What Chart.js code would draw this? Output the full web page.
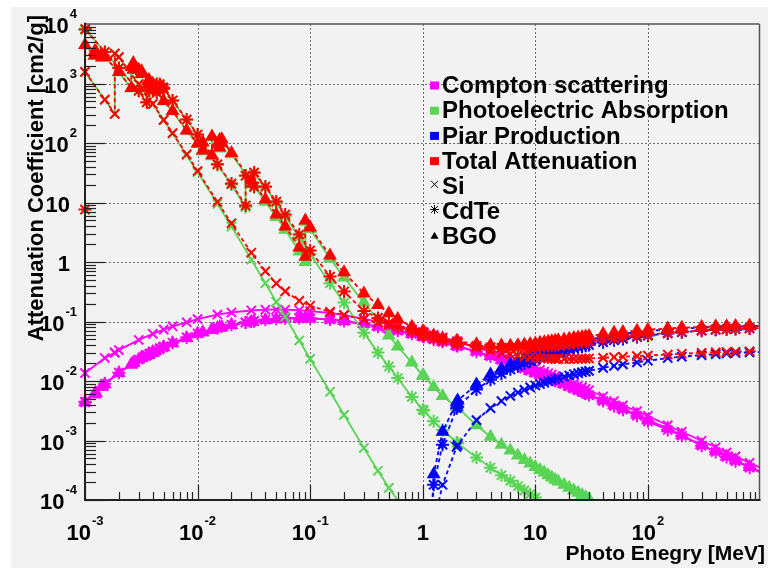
<!DOCTYPE html>
<html>
<head>
<meta charset="utf-8">
<script src="https://cdn.jsdelivr.net/npm/chart.js@4.4.1/dist/chart.umd.min.js"></script>
<style>
  html, body { margin: 0; padding: 0; background: #fff; }
  #wrap { width: 768px; height: 568px; }
</style>
</head>
<body>
<div id="wrap"><canvas id="myChart" width="768" height="568"></canvas></div>
<script>
// energies shared by all materials above 100 keV [MeV]
const eTail = [0.1, 0.15, 0.2, 0.3, 0.4, 0.5, 0.6, 0.8, 1, 1.022, 1.25, 1.5, 2, 2.044, 3, 4, 5, 6, 7, 8, 9, 10,
  11, 12, 13, 14, 15, 16, 18, 20, 22, 24, 26, 28, 30, 40, 50, 60, 80, 100, 150, 200, 300, 400, 500, 600, 800, 1000];
const pairEnergy = eTail.slice(9);

// ---- Si ----
const siEnergy = [1e-3, 1.5e-3, 1.839e-3, 1.839e-3, 2e-3, 3e-3, 4e-3, 5e-3, 6e-3, 8e-3, 1e-2, 1.5e-2, 2e-2, 3e-2,
  4e-2, 5e-2, 6e-2, 8e-2].concat(eTail);
const siCompton = [0.0136, 0.0244, 0.030, 0.030, 0.033, 0.049, 0.062, 0.073, 0.083, 0.097, 0.110, 0.131, 0.142, 0.153,
  0.158, 0.159, 0.158, 0.1545,
  0.150, 0.139, 0.128, 0.111, 0.0998, 0.0911, 0.0843, 0.0741, 0.0666, 0.0659, 0.0596, 0.0542, 0.0464, 0.0459, 0.0368,
  0.0308, 0.0267, 0.0236, 0.0212, 0.0193, 0.0177, 0.0164, 0.0153, 0.0143, 0.0135, 0.0128, 0.0121, 0.0116, 0.0106,
  0.0097, 0.0090, 0.0084, 0.0079, 0.0074, 0.0070, 0.0055, 0.0046, 0.0039, 0.0031, 0.0026, 0.0018, 0.0014, 0.00099,
  0.00077, 0.00063, 0.00054, 0.00042, 0.00035];
const siPhoto = [1567, 533, 307, 3190, 2770, 972, 448, 241, 144, 62.2, 32.2, 9.5, 3.93, 1.10, 0.44, 0.214, 0.120, 0.048,
  0.0235, 6.6e-3, 2.7e-3, 7.5e-4, 3.1e-4, 1.6e-4, 9.8e-5, 4.8e-5, 2.9e-5];
const siPair = [1e-6, 4e-5, 1.8e-4, 7.8e-4, 8.4e-4, 2.2e-3, 3.5e-3, 4.6e-3, 5.6e-3, 6.4e-3, 7.1e-3, 7.8e-3, 8.4e-3,
  8.9e-3, 9.4e-3, 9.9e-3, 1.03e-2, 1.07e-2, 1.11e-2, 1.18e-2, 1.24e-2, 1.30e-2, 1.35e-2, 1.40e-2, 1.44e-2, 1.48e-2,
  1.66e-2, 1.79e-2, 1.90e-2, 2.06e-2, 2.19e-2, 2.43e-2, 2.56e-2, 2.72e-2, 2.83e-2, 2.90e-2, 2.95e-2, 3.02e-2, 3.06e-2];
const siTotal = [1570, 535, 309, 3190, 2780, 978, 453, 245, 147, 64.7, 33.9, 10.3, 4.46, 1.43, 0.701, 0.438, 0.321, 0.223,
  0.184, 0.145, 0.128, 0.108, 0.0961, 0.0875, 0.0808, 0.0708, 0.0636, 0.0629, 0.0569, 0.0518, 0.0448, 0.0444, 0.0368,
  0.0324, 0.0297, 0.0279, 0.0267, 0.0257, 0.0251, 0.0246, 0.0243, 0.0240, 0.0238, 0.0237, 0.0235, 0.0235, 0.0234,
  0.0234, 0.0235, 0.0236, 0.0237, 0.0238, 0.0239, 0.0245, 0.0251, 0.0255, 0.0262, 0.0268, 0.0279, 0.0287, 0.0297,
  0.0304, 0.0308, 0.0311, 0.0316, 0.0319];

// ---- CdTe ----
const cdteEnergy = [1e-3, 1.006e-3, 1.5e-3, 2e-3, 3e-3, 3.538e-3, 3.538e-3, 3.727e-3, 3.727e-3, 4e-3, 4.018e-3, 4.018e-3,
  4.341e-3, 4.341e-3, 4.612e-3, 4.612e-3, 4.939e-3, 4.939e-3, 5e-3, 6e-3, 8e-3, 1e-2, 1.5e-2, 2e-2, 2.671e-2, 2.671e-2,
  3e-2, 3.181e-2, 3.181e-2, 4e-2, 5e-2, 6e-2, 8e-2].concat(eTail);
const cdteCompton = [0.0044, 0.0045, 0.0090, 0.0138, 0.023, 0.027, 0.027, 0.0285, 0.0285, 0.031, 0.031, 0.031, 0.033,
  0.033, 0.035, 0.035, 0.037, 0.037, 0.038, 0.044, 0.054, 0.063, 0.078, 0.088, 0.096, 0.096, 0.100, 0.102, 0.102, 0.107,
  0.111, 0.113, 0.114,
  0.113, 0.108, 0.102, 0.090, 0.082, 0.075, 0.070, 0.062, 0.056, 0.0553, 0.050, 0.0455, 0.039, 0.0386, 0.031, 0.026,
  0.0225, 0.0198, 0.0178, 0.0162, 0.0149, 0.0138, 0.0129, 0.0121, 0.0114, 0.0108, 0.0101, 0.0097, 0.0089, 0.0081,
  0.0075, 0.0070, 0.0066, 0.0062, 0.0058, 0.0046, 0.0038, 0.0033, 0.0026, 0.0021, 0.0015, 0.0012, 0.00082, 0.00064,
  0.00053, 0.00045, 0.00035, 0.00029];
const cdtePhoto = [8000, 8200, 3380, 1810, 750, 480, 870, 755, 965, 798, 787, 860, 697, 972, 825, 969, 806, 856, 828, 515,
  246, 137, 43, 20.1, 8.4, 27.8, 21.1, 17.9, 31.2, 18.0, 9.9, 5.9, 2.6,
  1.35, 0.44, 0.208, 0.065, 0.030, 0.0175, 0.0112, 0.0054, 0.0033, 0.0032, 0.0021, 0.0015, 9.3e-4, 9.0e-4, 5.2e-4,
  3.5e-4, 2.6e-4, 2.1e-4, 1.7e-4, 1.45e-4, 1.25e-4, 1.1e-4, 9.8e-5, 8.9e-5];
const cdtePair = [1e-7, 1.8e-4, 8.5e-4, 3.5e-3, 3.7e-3, 7.2e-3, 1.05e-2, 1.33e-2, 1.57e-2, 1.79e-2, 1.98e-2, 2.15e-2,
  2.31e-2, 2.46e-2, 2.6e-2, 2.72e-2, 2.84e-2, 2.95e-2, 3.05e-2, 3.24e-2, 3.4e-2, 3.55e-2, 3.69e-2, 3.81e-2, 3.93e-2,
  4.04e-2, 4.5e-2, 4.83e-2, 5.1e-2, 5.5e-2, 5.8e-2, 6.3e-2, 6.6e-2, 7.0e-2, 7.25e-2, 7.4e-2, 7.5e-2, 7.65e-2, 7.75e-2];
const cdteTotal = [7.6, 8200, 3390, 1817, 754, 483, 874, 759, 970, 802, 791, 864, 701, 977, 829, 974, 810, 860, 832, 518,
  248, 139, 44, 20.8, 8.9, 28.4, 21.7, 18.5, 32, 18.6, 10.4, 6.3, 2.9,
  1.56, 0.57, 0.32, 0.15, 0.115, 0.094, 0.082, 0.068, 0.0595, 0.0588, 0.0523, 0.048, 0.0434, 0.0432, 0.0388, 0.0369,
  0.0361, 0.0357, 0.0359, 0.0362, 0.0365, 0.0370, 0.0376, 0.0382, 0.0387, 0.0393, 0.0397, 0.0402, 0.0413, 0.0421,
  0.0430, 0.0439, 0.0447, 0.0455, 0.0462, 0.0496, 0.0521, 0.0543, 0.0576, 0.0601, 0.0645, 0.0672, 0.0708, 0.0731,
  0.0745, 0.0755, 0.0769, 0.0778];

// ---- BGO ----
const bgoEnergy = [1e-3, 1.217e-3, 1.217e-3, 1.248e-3, 1.248e-3, 1.414e-3, 1.414e-3, 1.5e-3, 2e-3, 2.58e-3, 2.58e-3,
  2.688e-3, 2.688e-3, 3e-3, 3.177e-3, 3.177e-3, 3.696e-3, 3.696e-3, 3.999e-3, 3.999e-3, 4e-3, 5e-3, 6e-3, 8e-3, 1e-2,
  1.11e-2, 1.11e-2, 1.342e-2, 1.342e-2, 1.5e-2, 1.571e-2, 1.571e-2, 1.639e-2, 1.639e-2, 2e-2, 3e-2, 4e-2, 5e-2, 6e-2,
  8e-2, 9.053e-2, 9.053e-2].concat(eTail);
const bgoCompton = [0.0044, 0.0060, 0.0060, 0.0063, 0.0063, 0.0080, 0.0080, 0.0088, 0.0136, 0.019, 0.019, 0.020, 0.020,
  0.023, 0.0245, 0.0245, 0.028, 0.028, 0.030, 0.030, 0.030, 0.037, 0.043, 0.053, 0.062, 0.066, 0.066, 0.073, 0.073,
  0.077, 0.079, 0.079, 0.080, 0.080, 0.087, 0.099, 0.106, 0.110, 0.112, 0.113, 0.113, 0.113,
  0.113, 0.108, 0.102, 0.0905, 0.0825, 0.0755, 0.0705, 0.0622, 0.0562, 0.0555, 0.0502, 0.0457, 0.0392, 0.0387, 0.0312,
  0.0262, 0.0227, 0.0200, 0.0180, 0.0164, 0.0150, 0.0139, 0.0130, 0.0122, 0.0115, 0.0109, 0.0102, 0.0098, 0.0090,
  0.0082, 0.0076, 0.0071, 0.0067, 0.0063, 0.0059, 0.0047, 0.0039, 0.0034, 0.0027, 0.0022, 0.0016, 0.00122, 0.00084,
  0.00066, 0.00054, 0.00046, 0.00036, 0.00030];
const bgoPhoto = [4400, 2920, 3420, 3320, 3420, 2720, 2970, 2770, 1545, 830, 1880, 1700, 2180, 1680, 1435, 1585, 1070,
  1140, 930, 975, 974, 505, 341, 160, 96, 73, 101, 60, 125, 92, 81, 109, 97, 113, 65, 22, 10.3, 5.7, 3.5, 1.5, 1.0, 4.75,
  3.6, 1.15, 0.55, 0.208, 0.108, 0.058, 0.038, 0.0204, 0.0124, 0.0121, 0.0079, 0.0056, 0.0037, 0.0036, 0.0018, 0.00116,
  0.00085, 0.00068, 0.00056, 0.00047, 0.00041, 0.00036, 0.00032, 0.00029, 0.00026, 0.00024, 0.00022, 0.000205, 0.00018,
  0.00016, 0.000145, 0.000132, 0.000121, 0.000112, 0.000104, 0.000077];
const bgoPair = [1e-7, 2.7e-4, 1.4e-3, 4.4e-3, 4.7e-3, 8.7e-3, 1.28e-2, 1.6e-2, 1.9e-2, 2.15e-2, 2.4e-2, 2.6e-2, 2.8e-2,
  3.0e-2, 3.15e-2, 3.3e-2, 3.45e-2, 3.6e-2, 3.7e-2, 3.95e-2, 4.15e-2, 4.35e-2, 4.5e-2, 4.65e-2, 4.8e-2, 4.95e-2, 5.5e-2,
  5.9e-2, 6.2e-2, 6.6e-2, 6.9e-2, 7.35e-2, 7.6e-2, 7.9e-2, 8.05e-2, 8.15e-2, 8.2e-2, 8.3e-2, 8.35e-2];
const bgoTotal = [4440, 2950, 3450, 3350, 3450, 2750, 3000, 2800, 1560, 840, 1900, 1720, 2200, 1700, 1450, 1600, 1080,
  1150, 940, 985, 984, 510, 345, 162, 98, 75, 103, 62, 128, 95, 84, 112, 100, 116, 68, 23.5, 11.2, 6.3, 3.95, 1.75, 1.22,
  5.0,
  3.8, 1.29, 0.67, 0.296, 0.19, 0.138, 0.110, 0.082, 0.068, 0.067, 0.058, 0.0525, 0.047, 0.0467, 0.0415, 0.040, 0.0394,
  0.0393, 0.040, 0.0409, 0.0418, 0.0428, 0.044, 0.0448, 0.0457, 0.0467, 0.0477, 0.0483, 0.0500, 0.0514, 0.0528, 0.0538,
  0.0549, 0.0559, 0.0571, 0.0614, 0.0645, 0.0669, 0.0702, 0.0727, 0.0765, 0.0786, 0.0812, 0.0825, 0.0833, 0.0837,
  0.0845, 0.0849];

// axes and legend texts
const xTickValues = [1e-3, 1e-2, 1e-1, 1, 10, 100];
const xTickLabels = ['10^-3', '10^-2', '10^-1', '1', '10', '10^2'];
const yTickValues = [1e-4, 1e-3, 1e-2, 1e-1, 1, 10, 100, 1e3, 1e4];
const yTickLabels = ['10^-4', '10^-3', '10^-2', '10^-1', '1', '10', '10^2', '10^3', '10^4'];
const processNames = ['Compton scattering', 'Photoelectric Absorption', 'Piar Production', 'Total Attenuation'];
const materialNames = ['Si', 'CdTe', 'BGO'];
const xTitle = 'Photo Enegry [MeV]';
const yTitle = 'Attenuation Coefficient [cm2/g]';

const xMin = 1e-3, xMax = 980, yMin = 1e-4, yMax = 1e4;
const processColors = ['#ff00ff', '#59d454', '#0000ff', '#ff0000'];
const materialStyles = ['crossRot', 'star', 'triangle'];
const FONT = '"Liberation Sans", Arial, sans-serif';

function toPoints(energy, values) {
  let pts = [];
  for (let i = 0; i < values.length; i++) {
    if (values[i] != null) pts.push({ x: energy[i], y: values[i] });
  }
  return pts;
}

function makeSet(label, energy, values, proc, mat) {
  const color = processColors[proc];
  const style = materialStyles[mat];
  const r = style === 'triangle' ? 6 : 6.5;
  return {
    label: label,
    data: toPoints(energy, values),
    borderColor: color,
    backgroundColor: color,
    borderWidth: 1.8,
    borderDash: proc >= 2 ? [4, 3] : [],
    pointStyle: style,
    pointBorderColor: color,
    pointBackgroundColor: color,
    pointBorderWidth: 2,
    pointRadius: (c) => {
      const p = c.raw;
      if (!p || p.x > xMax || p.y < yMin || p.y > yMax) return 0;
      return r;
    },
    fill: false,
    tension: 0,
    clip: { left: 10, top: 10, right: 0, bottom: 0 },
    order: 3 - proc,
  };
}

const datasets = [
  makeSet('Si total', siEnergy, siTotal, 3, 0),
  makeSet('CdTe total', cdteEnergy, cdteTotal, 3, 1),
  makeSet('BGO total', bgoEnergy, bgoTotal, 3, 2),
  makeSet('Si pair', pairEnergy, siPair, 2, 0),
  makeSet('CdTe pair', pairEnergy, cdtePair, 2, 1),
  makeSet('BGO pair', pairEnergy, bgoPair, 2, 2),
  makeSet('Si photo', siEnergy, siPhoto, 1, 0),
  makeSet('CdTe photo', cdteEnergy, cdtePhoto, 1, 1),
  makeSet('BGO photo', bgoEnergy, bgoPhoto, 1, 2),
  makeSet('Si compton', siEnergy, siCompton, 0, 0),
  makeSet('CdTe compton', cdteEnergy, cdteCompton, 0, 1),
  makeSet('BGO compton', bgoEnergy, bgoCompton, 0, 2),
];

function drawPow(ctx, label, x, y, align) {
  const parts = label.split('^');
  ctx.font = 'bold 22px ' + FONT;
  const bw = ctx.measureText(parts[0]).width;
  let ew = 0;
  if (parts[1]) {
    ctx.font = 'bold 13px ' + FONT;
    ew = ctx.measureText(parts[1]).width + 1;
  }
  const left = align === 'right' ? x - bw - ew : x - (bw + ew) / 2;
  ctx.textAlign = 'left';
  ctx.textBaseline = 'alphabetic';
  ctx.font = 'bold 22px ' + FONT;
  ctx.fillText(parts[0], left, y);
  if (parts[1]) {
    ctx.font = 'bold 13px ' + FONT;
    ctx.fillText(parts[1], left + bw + 1, y - 15);
  }
}

function seg(ctx, x1, y1, x2, y2) {
  ctx.beginPath();
  ctx.moveTo(x1, y1);
  ctx.lineTo(x2, y2);
  ctx.stroke();
}

const rootFrame = {
  id: 'rootFrame',
  beforeDraw(chart) {
    const ctx = chart.ctx;
    ctx.save();
    ctx.fillStyle = '#ffffff';
    ctx.fillRect(0, 0, chart.width, chart.height);
    ctx.fillStyle = '#f2f2f2';
    ctx.fillRect(11, 7, chart.width - 11, chart.height - 7);
    ctx.restore();
  },
  beforeDatasetsDraw(chart) {
    const { ctx, chartArea: a, scales: { x, y } } = chart;
    ctx.save();
    ctx.strokeStyle = '#6e6e6e';
    ctx.lineWidth = 1;
    ctx.setLineDash([2, 2]);
    xTickValues.slice(1).forEach(v => {
      const px = Math.round(x.getPixelForValue(v)) + 0.5;
      seg(ctx, px, a.top, px, a.bottom);
    });
    yTickValues.slice(1, -1).forEach(v => {
      const py = Math.round(y.getPixelForValue(v)) + 0.5;
      seg(ctx, a.left, py, a.right, py);
    });
    ctx.restore();
  },
  afterDatasetsDraw(chart) {
    const { ctx, chartArea: a, scales: { x, y } } = chart;
    ctx.save();
    ctx.setLineDash([]);
    // frame
    ctx.strokeStyle = '#555';
    ctx.lineWidth = 1.5;
    seg(ctx, a.left, a.top, a.right, a.top);
    seg(ctx, a.right, a.top, a.right, a.bottom);
    ctx.strokeStyle = '#222';
    ctx.lineWidth = 2;
    seg(ctx, a.left, a.top - 1, a.left, a.bottom + 1);
    seg(ctx, a.left - 1, a.bottom, a.right + 1, a.bottom);

    // ticks
    ctx.lineWidth = 1.2;
    for (let d = -4; d < 4; d++) {
      for (let k = 1; k <= 9; k++) {
        const v = k * Math.pow(10, d);
        if (v < yMin || v > yMax) continue;
        const py = Math.round(y.getPixelForValue(v)) + 0.5;
        seg(ctx, a.left, py, a.left + (k === 1 ? 20 : 11), py);
      }
    }
    for (let d = -3; d < 3; d++) {
      for (let k = 1; k <= 9; k++) {
        const v = k * Math.pow(10, d);
        if (v < xMin || v > xMax) continue;
        const px = Math.round(x.getPixelForValue(v)) + 0.5;
        seg(ctx, px, a.bottom, px, a.bottom - (k === 1 ? 15 : 8));
      }
    }

    // tick labels
    ctx.fillStyle = '#000';
    yTickValues.forEach((v, i) => {
      const py = y.getPixelForValue(v);
      const lab = yTickLabels[i];
      drawPow(ctx, lab, lab.indexOf('^') >= 0 ? 77 : 70, py + 9, 'right');
    });
    xTickValues.forEach((v, i) => {
      const px = x.getPixelForValue(v);
      drawPow(ctx, xTickLabels[i], px, 540, 'center');
    });

    // axis titles
    ctx.font = 'bold 21px ' + FONT;
    ctx.textAlign = 'right';
    ctx.textBaseline = 'alphabetic';
    ctx.fillText(xTitle, 765, 560);
    ctx.save();
    ctx.translate(43, 15);
    ctx.rotate(-Math.PI / 2);
    ctx.font = 'bold 22px ' + FONT;
    ctx.textAlign = 'right';
    ctx.fillText(yTitle, 0, 0);
    ctx.restore();

    // legend
    const lx = 430, ly = 85.5, step = 25.2;
    ctx.font = 'bold 24px ' + FONT;
    ctx.textAlign = 'left';
    ctx.textBaseline = 'middle';
    processNames.forEach((name, i) => {
      const cy = ly + i * step;
      ctx.fillStyle = processColors[i];
      ctx.fillRect(lx, cy - 4, 9, 8);
      ctx.fillStyle = '#000';
      ctx.fillText(name, lx + 12, cy + 1);
    });
    materialNames.forEach((name, i) => {
      const cy = ly + (i + 4) * step;
      ctx.strokeStyle = '#000';
      ctx.fillStyle = '#000';
      ctx.lineWidth = 1;
      const cx = lx + 4.5, s = 3.5;
      if (i === 0) {
        seg(ctx, cx - s, cy - s - 2, cx + s, cy + s - 2);
        seg(ctx, cx - s, cy + s - 2, cx + s, cy - s - 2);
      } else if (i === 1) {
        seg(ctx, cx - s, cy - s - 2, cx + s, cy + s - 2);
        seg(ctx, cx - s, cy + s - 2, cx + s, cy - s - 2);
        seg(ctx, cx, cy - s - 3, cx, cy + s - 1);
        seg(ctx, cx - s - 1, cy - 2, cx + s + 1, cy - 2);
      } else {
        ctx.beginPath();
        ctx.moveTo(cx, cy - 5);
        ctx.lineTo(cx + 4, cy + 2);
        ctx.lineTo(cx - 4, cy + 2);
        ctx.closePath();
        ctx.fill();
      }
      ctx.fillText(name, lx + 12, cy + 1);
    });
    ctx.restore();
  },
};

const ctx = document.getElementById('myChart').getContext('2d');
const myChart = new Chart(ctx, {
  type: 'line',
  data: { datasets: datasets },
  options: {
    responsive: false,
    animation: false,
    devicePixelRatio: 1,
    layout: { padding: { left: 85, top: 24, right: 6, bottom: 68 } },
    scales: {
      x: { type: 'logarithmic', min: xMin, max: xMax, display: false },
      y: { type: 'logarithmic', min: yMin, max: yMax, display: false },
    },
    plugins: {
      legend: { display: false },
      tooltip: { enabled: false },
    },
  },
  plugins: [rootFrame],
});
</script>
</body>
</html>
